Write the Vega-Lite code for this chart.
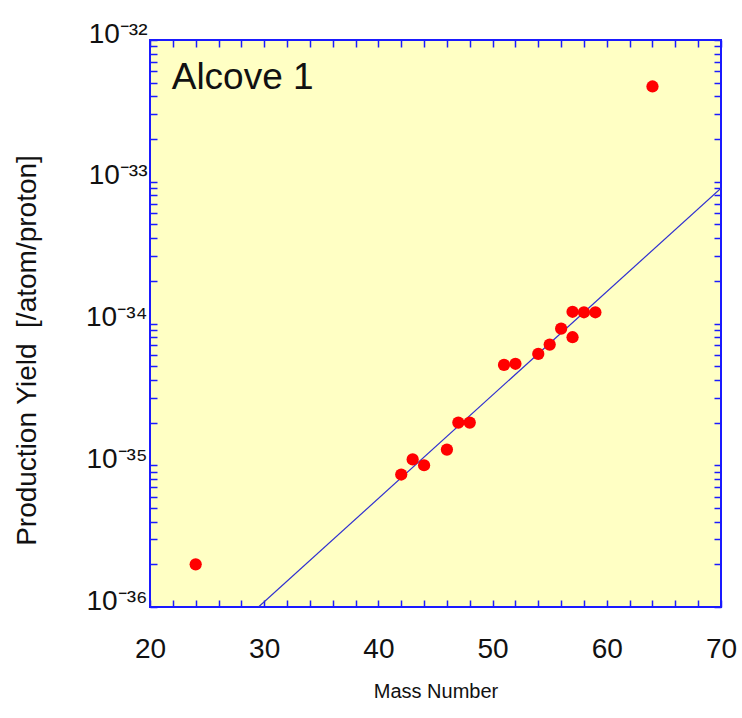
{
  "$schema": "https://vega.github.io/schema/vega-lite/v6.json",
  "autosize": "none",
  "width": 571,
  "height": 567,
  "padding": {"left": 150, "top": 40, "right": 21, "bottom": 111},
  "background": "white",
  "config": {
    "view": {"fill": "#FFFFC4", "stroke": "#1a1aff", "strokeWidth": 2},
    "axis": {"domain": false, "grid": false, "ticks": true, "tickColor": "#1a1aff", "tickWidth": 1.5, "labelFont": "Liberation Sans", "titleFont": "Liberation Sans", "labelColor": "#111", "titleColor": "#111", "titleFontWeight": "normal", "labelFlush": false, "labelOverlap": false}
  },
  "datasets": {
    "pts": [
      {"mass": 24, "yield": 2.0e-36},
      {"mass": 42, "yield": 8.6e-36},
      {"mass": 43, "yield": 1.1e-35},
      {"mass": 44, "yield": 1.0e-35},
      {"mass": 46, "yield": 1.29e-35},
      {"mass": 47, "yield": 2.0e-35},
      {"mass": 48, "yield": 2.0e-35},
      {"mass": 51, "yield": 5.1e-35},
      {"mass": 52, "yield": 5.2e-35},
      {"mass": 54, "yield": 6.1e-35},
      {"mass": 55, "yield": 7.1e-35},
      {"mass": 56, "yield": 9.2e-35},
      {"mass": 57, "yield": 8.0e-35},
      {"mass": 57, "yield": 1.21e-34},
      {"mass": 58, "yield": 1.2e-34},
      {"mass": 59, "yield": 1.2e-34},
      {"mass": 64, "yield": 4.7e-33}
    ],
    "fit": [
      {"mass": 29.5, "yield": 1.0e-36},
      {"mass": 70, "yield": 9.0e-34}
    ],
    "lab": [
      {"mass": 21.9, "yield": 5.4e-33, "label": "Alcove 1"}
    ]
  },
  "resolve": {"axis": {"x": "independent", "y": "independent"}},
  "layer": [
    {
      "data": {"name": "fit"},
      "mark": {"type": "line", "color": "#3030d0", "strokeWidth": 1.2, "clip": true},
      "encoding": {
        "x": {"field": "mass", "type": "quantitative",
          "scale": {"domain": [20, 70], "nice": false, "zero": false},
          "axis": {"orient": "top", "labels": false, "title": null,
            "values": [20,22,24,26,28,30,32,34,36,38,40,42,44,46,48,50,52,54,56,58,60,62,64,66,68,70],
            "tickSize": 7, "offset": -7}},
        "y": {"field": "yield", "type": "quantitative",
          "scale": {"type": "log", "domain": [1e-36, 1e-32], "nice": false},
          "axis": {"orient": "right", "labels": false, "title": null,
            "values": [1e-36,2e-36,3e-36,4e-36,5e-36,6e-36,7e-36,8e-36,9e-36,1e-35,2e-35,3e-35,4e-35,5e-35,6e-35,7e-35,8e-35,9e-35,1e-34,2e-34,3e-34,4e-34,5e-34,6e-34,7e-34,8e-34,9e-34,1e-33,2e-33,3e-33,4e-33,5e-33,6e-33,7e-33,8e-33,9e-33,1e-32],
            "tickSize": 7, "offset": -7}}
      }
    },
    {
      "data": {"name": "lab"},
      "mark": {"type": "text", "align": "left", "baseline": "middle", "font": "Liberation Sans", "fontSize": 37, "color": "#111"},
      "encoding": {
        "x": {"field": "mass", "type": "quantitative", "axis": null},
        "y": {"field": "yield", "type": "quantitative", "axis": null},
        "text": {"field": "label"}
      }
    },
    {
      "data": {"name": "pts"},
      "mark": {"type": "circle", "color": "#ff0000", "opacity": 1, "size": 150},
      "encoding": {
        "x": {"field": "mass", "type": "quantitative",
          "axis": {"orient": "bottom", "title": "Mass Number", "titleFontSize": 20, "titlePadding": 18,
            "labelFontSize": 28, "labelPadding": 28,
            "values": [20,22,24,26,28,30,32,34,36,38,40,42,44,46,48,50,52,54,56,58,60,62,64,66,68,70],
            "labelExpr": "datum.value % 10 == 0 ? datum.label : ''",
            "tickSize": 7, "offset": -7}},
        "y": {"field": "yield", "type": "quantitative",
          "axis": {"orient": "left", "title": "Production Yield\u00a0\u00a0[/atom/proton]", "titleFontSize": 28, "titlePadding": 44, "titleY": 310,
            "labelFontSize": 28, "labelPadding": 3, "labelBaseline": "alphabetic", "labelOffset": 2,
            "values": [1e-36,2e-36,3e-36,4e-36,5e-36,6e-36,7e-36,8e-36,9e-36,1e-35,2e-35,3e-35,4e-35,5e-35,6e-35,7e-35,8e-35,9e-35,1e-34,2e-34,3e-34,4e-34,5e-34,6e-34,7e-34,8e-34,9e-34,1e-33,2e-33,3e-33,4e-33,5e-33,6e-33,7e-33,8e-33,9e-33,1e-32],
            "labelExpr": "abs(log(datum.value)/LN10 - round(log(datum.value)/LN10)) > 0.01 ? '' : datum.value > 5e-33 ? '10⁻³²' : datum.value > 5e-34 ? '10⁻³³' : datum.value > 5e-35 ? '10⁻³⁴' : datum.value > 5e-36 ? '10⁻³⁵' : '10⁻³⁶'",
            "tickSize": 7, "offset": -7}}
      }
    }
  ]
}
